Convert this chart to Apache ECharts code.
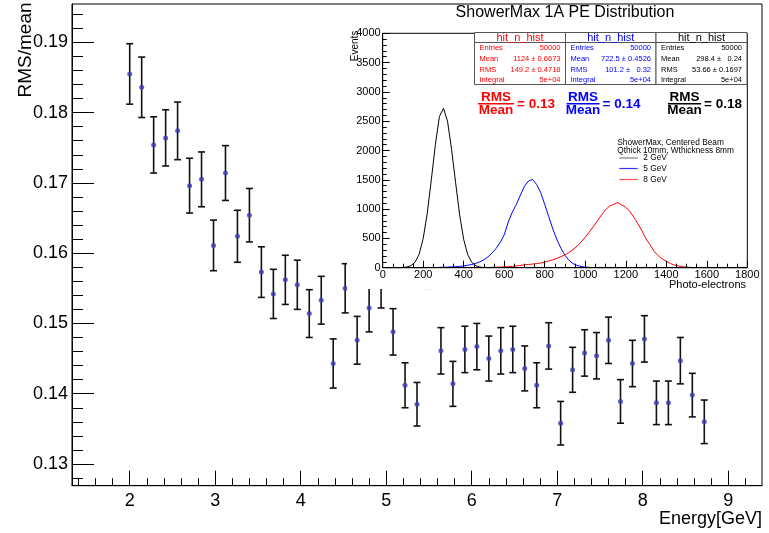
<!DOCTYPE html>
<html>
<head>
<meta charset="utf-8">
<script src="https://cdn.jsdelivr.net/npm/echarts@6/dist/echarts.min.js"></script>
<style>html,body{margin:0;padding:0;background:#fff;}#c{width:769px;height:533px;}</style>
</head>
<body>
<div id="c"></div>
<script>
// ---------- main graph data ----------
const energy = [2.00, 2.14, 2.28, 2.42, 2.56, 2.70, 2.84, 2.98, 3.12, 3.26, 3.40, 3.54, 3.68, 3.82, 3.96, 4.10, 4.24, 4.38, 4.52, 4.66, 4.80, 4.94, 5.08, 5.22, 5.36, 5.50, 5.64, 5.78, 5.92, 6.06, 6.20, 6.34, 6.48, 6.62, 6.76, 6.90, 7.04, 7.18, 7.32, 7.46, 7.60, 7.74, 7.88, 8.02, 8.16, 8.30, 8.44, 8.58, 8.72];
const rmsOverMean = [0.1855, 0.1836, 0.1754, 0.1764, 0.1774, 0.1696, 0.1705, 0.1611, 0.1714, 0.1624, 0.1654, 0.1573, 0.1542, 0.1562, 0.1555, 0.1514, 0.1533, 0.1443, 0.1550, 0.1476, 0.1522, 0.1557, 0.1488, 0.1412, 0.1385, 0.1585, 0.1461, 0.1414, 0.1463, 0.1467, 0.1450, 0.1461, 0.1463, 0.1436, 0.1412, 0.1468, 0.1358, 0.1434, 0.1458, 0.1454, 0.1476, 0.1389, 0.1443, 0.1478, 0.1387, 0.1387, 0.1447, 0.1398, 0.1360];
const rmsErr = [0.0043, 0.0043, 0.0040, 0.0040, 0.0041, 0.0039, 0.0039, 0.0036, 0.0039, 0.0037, 0.0038, 0.0036, 0.0035, 0.0035, 0.0035, 0.0034, 0.0034, 0.0035, 0.0035, 0.0034, 0.0034, 0.0035, 0.0033, 0.0032, 0.0031, 0.0035, 0.0033, 0.0032, 0.0033, 0.0033, 0.0032, 0.0033, 0.0033, 0.0032, 0.0032, 0.0033, 0.0031, 0.0032, 0.0033, 0.0033, 0.0033, 0.0031, 0.0033, 0.0033, 0.0031, 0.0031, 0.0033, 0.0031, 0.0031];
const xMajorTicks = [2, 3, 4, 5, 6, 7, 8, 9];
const xMinorTicks = [1.4, 1.6, 1.8, 2.2, 2.4, 2.6, 2.8, 3.2, 3.4, 3.6, 3.8, 4.2, 4.4, 4.6, 4.8, 5.2, 5.4, 5.6, 5.8, 6.2, 6.4, 6.6, 6.8, 7.2, 7.4, 7.6, 7.8, 8.2, 8.4, 8.6, 8.8, 9.2];
const yMajorTicks = [0.13, 0.14, 0.15, 0.16, 0.17, 0.18, 0.19];
const yMinorTicks = [0.128, 0.132, 0.134, 0.136, 0.138, 0.142, 0.144, 0.146, 0.148, 0.152, 0.154, 0.156, 0.158, 0.162, 0.164, 0.166, 0.168, 0.172, 0.174, 0.176, 0.178, 0.182, 0.184, 0.186, 0.188, 0.192, 0.194];

// ---------- inset histogram data (PE, counts) ----------
const pe2GeV = [0, 80, 100, 120, 140, 160, 180, 200, 220, 240, 260, 280, 300, 320, 340, 360, 380, 400, 420, 440, 460, 480, 500, 520, 1800];
const cnt2GeV = [0, 0, 5, 12, 35, 95, 230, 500, 930, 1500, 2100, 2580, 2720, 2500, 2020, 1450, 900, 480, 220, 90, 32, 10, 3, 0, 0];
const pe5GeV = [0, 240, 260, 280, 300, 320, 340, 360, 380, 400, 420, 440, 460, 480, 500, 520, 540, 560, 580, 600, 620, 640, 660, 680, 700, 720, 740, 760, 780, 800, 820, 840, 860, 880, 900, 920, 940, 960, 980, 1000, 1020, 1040, 1060, 1800];
const cnt5GeV = [0, 0, 2, 5, 8, 10, 14, 18, 22, 30, 42, 55, 75, 100, 135, 185, 250, 330, 430, 560, 780, 950, 1080, 1240, 1390, 1480, 1505, 1420, 1280, 1080, 870, 660, 480, 330, 210, 125, 70, 38, 20, 10, 5, 2, 0, 0];
const pe8GeV = [0, 480, 500, 520, 540, 560, 580, 600, 620, 640, 660, 680, 700, 720, 740, 760, 780, 800, 820, 840, 860, 880, 900, 920, 940, 960, 980, 1000, 1020, 1040, 1060, 1080, 1100, 1120, 1140, 1160, 1180, 1200, 1220, 1240, 1260, 1280, 1300, 1320, 1340, 1360, 1380, 1400, 1420, 1440, 1460, 1480, 1500, 1520, 1540, 1560, 1800];
const cnt8GeV = [0, 0, 3, 4, 6, 8, 10, 14, 18, 24, 30, 38, 48, 55, 62, 70, 80, 95, 115, 135, 160, 190, 220, 260, 310, 370, 440, 520, 610, 700, 800, 900, 990, 1050, 1080, 1110, 1070, 1030, 960, 860, 750, 630, 490, 390, 280, 205, 150, 110, 72, 46, 30, 18, 10, 5, 2, 0, 0];

// ---------- texts ----------
const statsRed = [['Entries', '50000'], ['Mean', '1124 \u00b1 0.6673'], ['RMS', '149.2 \u00b1 0.4718'], ['Integral', '5e+04']];
const statsBlue = [['Entries', '50000'], ['Mean', '722.5 \u00b1 0.4526'], ['RMS', '101.2 \u00b1   0.32'], ['Integral', '5e+04']];
const statsBlack = [['Entries', '50000'], ['Mean', '298.4 \u00b1   0.24'], ['RMS', '53.66 \u00b1 0.1697'], ['Integral', '5e+04']];
const ratioLabels = ['= 0.13', '= 0.14', '= 0.18'];

const FONT = 'Liberation Sans, Arial, Helvetica, sans-serif';
const chart = echarts.init(document.getElementById('c'), null, {renderer: 'canvas'});

const X0 = 1.325, X1 = 9.395, Y0 = 0.12691, Y1 = 0.19545;

function statsBox(x, w, color, rows) {
  const els = [];
  els.push({type: 'rect', z: 20, shape: {x: x, y: 32.5, width: w, height: 52}, style: {fill: '#fff', stroke: '#555', lineWidth: 1}});
  els.push({type: 'line', z: 21, shape: {x1: x, y1: 42.5, x2: x + w, y2: 42.5}, style: {stroke: '#555', lineWidth: 1}});
  els.push({type: 'text', z: 21, x: x + w / 2, y: 37.8, style: {text: 'hit_n_hist', fill: color, font: '11px ' + FONT, align: 'center', verticalAlign: 'middle'}});
  const ys = [48, 59, 69.7, 80.2];
  rows.forEach((r, i) => {
    els.push({type: 'text', z: 21, x: x + 5, y: ys[i], style: {text: r[0], fill: color, font: '7.5px ' + FONT, align: 'left', verticalAlign: 'middle'}});
    els.push({type: 'text', z: 21, x: x + w - 5, y: ys[i], style: {text: r[1], fill: color, font: '7.5px ' + FONT, align: 'right', verticalAlign: 'middle'}});
  });
  return els;
}
function ratio(cx, x1, x2, color, label) {
  return [
    {type: 'text', z: 21, x: cx, y: 97.6, style: {text: 'RMS', fill: color, font: 'bold 13.5px ' + FONT, align: 'center', verticalAlign: 'middle'}},
    {type: 'line', z: 21, shape: {x1: x1, y1: 103.8, x2: x2, y2: 103.8}, style: {stroke: color, lineWidth: 1.6}},
    {type: 'text', z: 21, x: cx, y: 110.2, style: {text: 'Mean', fill: color, font: 'bold 13.5px ' + FONT, align: 'center', verticalAlign: 'middle'}},
    {type: 'text', z: 21, x: x2 + 3, y: 103.8, style: {text: label, fill: color, font: 'bold 13.5px ' + FONT, align: 'left', verticalAlign: 'middle'}}
  ];
}

const graphics = [
  {type: 'rect', z: 5, shape: {x: 347, y: 5, width: 413, height: 284}, style: {fill: '#fff'}},
  {type: 'text', z: 21, x: 565, y: 13, style: {text: 'ShowerMax 1A PE Distribution', fill: '#000', font: '16px ' + FONT, align: 'center', verticalAlign: 'middle'}},
  {type: 'text', z: 21, x: 355, y: 46, rotation: Math.PI / 2, style: {text: 'Events', fill: '#000', font: '10px ' + FONT, align: 'center', verticalAlign: 'middle'}},
  {type: 'text', z: 21, x: 746, y: 285, style: {text: 'Photo-electrons', fill: '#000', font: '11px ' + FONT, align: 'right', verticalAlign: 'middle'}},
  {type: 'text', z: 21, x: 617.3, y: 142.3, style: {text: 'ShowerMax, Centered Beam', fill: '#000', font: '8.3px ' + FONT, align: 'left', verticalAlign: 'middle'}},
  {type: 'text', z: 21, x: 617.3, y: 150.7, style: {text: 'Qthick 10mm, Wthickness 8mm', fill: '#000', font: '8.3px ' + FONT, align: 'left', verticalAlign: 'middle'}},
  {type: 'line', z: 21, shape: {x1: 619.3, y1: 158, x2: 637.7, y2: 158}, style: {stroke: '#999', lineWidth: 1.5}},
  {type: 'text', z: 21, x: 643.3, y: 158, style: {text: '2 GeV', fill: '#000', font: '8.3px ' + FONT, align: 'left', verticalAlign: 'middle'}},
  {type: 'line', z: 21, shape: {x1: 619.3, y1: 168.5, x2: 637.7, y2: 168.5}, style: {stroke: '#3333ff', lineWidth: 1.2}},
  {type: 'text', z: 21, x: 643.3, y: 168.5, style: {text: '5 GeV', fill: '#000', font: '8.3px ' + FONT, align: 'left', verticalAlign: 'middle'}},
  {type: 'line', z: 21, shape: {x1: 619.3, y1: 179.5, x2: 637.7, y2: 179.5}, style: {stroke: '#ff4d4d', lineWidth: 1.2}},
  {type: 'text', z: 21, x: 643.3, y: 179.5, style: {text: '8 GeV', fill: '#000', font: '8.3px ' + FONT, align: 'left', verticalAlign: 'middle'}},
  {type: 'text', z: 21, x: 26, y: 50, rotation: Math.PI / 2, style: {text: 'RMS/mean', fill: '#000', font: '19px ' + FONT, align: 'center', verticalAlign: 'middle'}},
  {type: 'text', z: 21, x: 762, y: 519, style: {text: 'Energy[GeV]', fill: '#000', font: '18px ' + FONT, align: 'right', verticalAlign: 'middle'}}
]
.concat(statsBox(474.5, 91, '#ff0000', statsRed))
.concat(statsBox(565.5, 90.5, '#0000ff', statsBlue))
.concat(statsBox(656, 91, '#000000', statsBlack))
.concat(ratio(496, 478, 514, '#ff0000', ratioLabels[0]))
.concat(ratio(583, 566.5, 599.5, '#0000ff', ratioLabels[1]))
.concat(ratio(684.5, 668, 701, '#000000', ratioLabels[2]));

function mainAxis(isMajor, kind) {
  return {
    type: 'value', gridIndex: 0, z: 1,
    min: kind === 'x' ? X0 : Y0, max: kind === 'x' ? X1 : Y1,
    position: kind === 'x' ? 'bottom' : 'left',
    splitLine: {show: false},
    axisLine: {show: isMajor, onZero: false, lineStyle: {color: '#000', width: 1}},
    axisTick: {show: true, inside: true, length: kind === 'x' ? (isMajor ? 15 : 7.5) : (isMajor ? 22 : 11),
      customValues: kind === 'x' ? (isMajor ? xMajorTicks : xMinorTicks) : (isMajor ? yMajorTicks : yMinorTicks),
      lineStyle: {color: '#000', width: 1}},
    axisLabel: isMajor ? {show: true, customValues: kind === 'x' ? xMajorTicks : yMajorTicks, color: '#000', fontSize: 18, fontFamily: FONT, margin: kind === 'x' ? 6 : 4,
      formatter: v => kind === 'x' ? String(v) : v.toFixed(2)} : {show: false}
  };
}

const option = {
  animation: false,
  backgroundColor: '#fff',
  textStyle: {fontFamily: FONT},
  grid: [
    {left: 72, top: 4, right: 7, bottom: 47.3, show: true, borderColor: '#000', borderWidth: 1, backgroundColor: 'transparent', containLabel: false, outerBoundsMode: 'none', z: 1},
    {left: 382.7, top: 33.3, right: 21.7, bottom: 265.3, show: true, borderColor: '#000', borderWidth: 1, backgroundColor: '#fff', containLabel: false, outerBoundsMode: 'none', z: 10}
  ],
  xAxis: [
    mainAxis(true, 'x'), mainAxis(false, 'x'),
    {type: 'value', gridIndex: 1, z: 12, min: 0, max: 1800, interval: 200, position: 'bottom', splitLine: {show: false},
      axisLine: {onZero: false, lineStyle: {color: '#000', width: 1}},
      axisTick: {inside: true, length: 7, lineStyle: {color: '#000'}},
      minorTick: {show: true, splitNumber: 4, length: 4, lineStyle: {color: '#000'}},
      axisLabel: {color: '#000', fontSize: 11, fontFamily: FONT, margin: 2, showMinLabel: true, showMaxLabel: true, formatter: v => String(v)}}
  ],
  yAxis: [
    mainAxis(true, 'y'), mainAxis(false, 'y'),
    {type: 'value', gridIndex: 1, z: 12, min: 0, max: 4000, interval: 500, position: 'left', splitLine: {show: false},
      axisLine: {onZero: false, lineStyle: {color: '#000', width: 1}},
      axisTick: {inside: true, length: 7, lineStyle: {color: '#000'}},
      minorTick: {show: true, splitNumber: 5, length: 4, lineStyle: {color: '#000'}},
      axisLabel: {color: '#000', fontSize: 11, fontFamily: FONT, margin: 2, showMinLabel: true, showMaxLabel: true, formatter: v => String(v)}}
  ],
  graphic: {elements: graphics},
  series: [
    {
      type: 'custom', xAxisIndex: 0, yAxisIndex: 0, z: 2, clip: false,
      data: energy.map((e, i) => [e, rmsOverMean[i], rmsErr[i]]),
      renderItem: function (params, api) {
        const x = api.value(0), y = api.value(1), er = api.value(2);
        const t = api.coord([x, y + er]);
        const b = api.coord([x, y - er]);
        const st = {stroke: '#111', lineWidth: 1.6};
        return {type: 'group', children: [
          {type: 'line', shape: {x1: t[0], y1: t[1], x2: b[0], y2: b[1]}, style: st},
          {type: 'line', shape: {x1: t[0] - 3.5, y1: t[1], x2: t[0] + 3.5, y2: t[1]}, style: st},
          {type: 'line', shape: {x1: b[0] - 3.5, y1: b[1], x2: b[0] + 3.5, y2: b[1]}, style: st}
        ]};
      }
    },
    {
      type: 'scatter', xAxisIndex: 0, yAxisIndex: 0, z: 3,
      data: energy.map((e, i) => [e, rmsOverMean[i]]),
      symbol: 'circle', symbolSize: 5, itemStyle: {color: '#3838b8'}
    },
    {type: 'line', xAxisIndex: 2, yAxisIndex: 2, z: 11, showSymbol: false, symbol: 'none',
      data: pe2GeV.map((p, i) => [p, cnt2GeV[i]]), lineStyle: {color: '#000', width: 1}},
    {type: 'line', xAxisIndex: 2, yAxisIndex: 2, z: 11, showSymbol: false, symbol: 'none',
      data: pe5GeV.map((p, i) => [p, cnt5GeV[i]]), lineStyle: {color: '#0000ff', width: 1}},
    {type: 'line', xAxisIndex: 2, yAxisIndex: 2, z: 11, showSymbol: false, symbol: 'none',
      data: pe8GeV.map((p, i) => [p, cnt8GeV[i]]), lineStyle: {color: '#ff0000', width: 1}}
  ]
};
chart.setOption(option);
</script>
</body>
</html>
